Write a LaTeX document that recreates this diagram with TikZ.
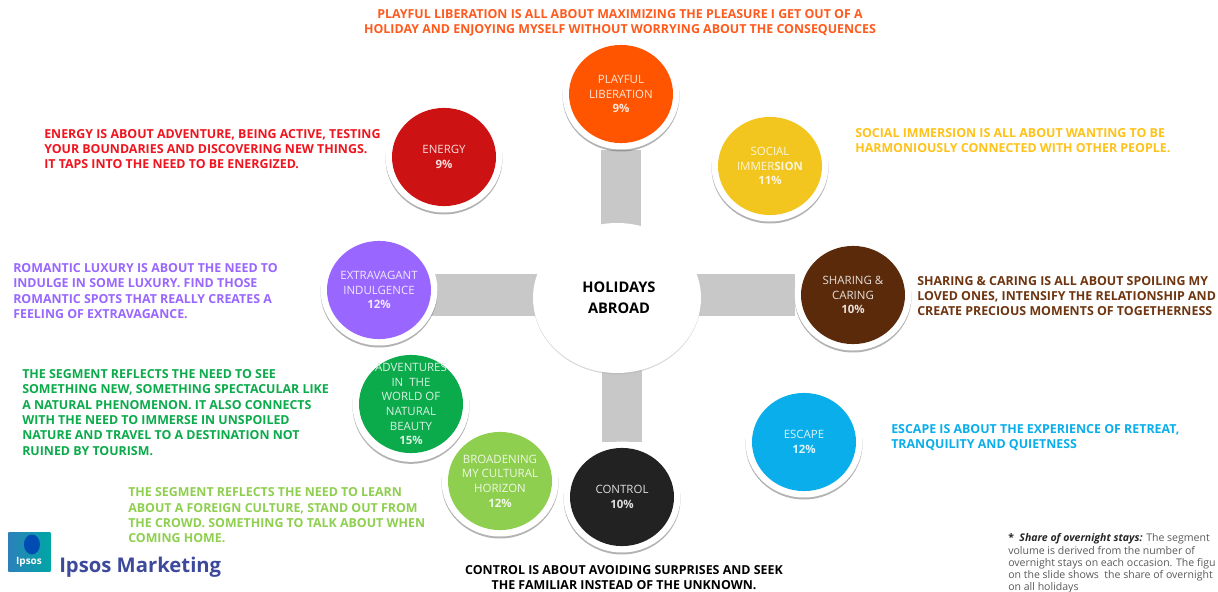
\documentclass[tikz,border=0pt]{standalone}
\usepackage{fontspec}
\setmainfont{Open Sans}
\usetikzlibrary{shapes.geometric,shadows,backgrounds}
\definecolor{EnergyRed}{HTML}{CC1212}
\definecolor{EnergyText}{HTML}{F0141E}
\definecolor{PlayOrange}{HTML}{FF5500}
\definecolor{PlayText}{HTML}{FF5A1E}
\definecolor{SocialYellow}{HTML}{F2C61F}
\definecolor{SocialText}{HTML}{FFC21A}
\definecolor{ShareBrown}{HTML}{5A2A0A}
\definecolor{ShareText}{HTML}{6E3510}
\definecolor{EscapeBlue}{HTML}{0AAEEA}
\definecolor{ExtraPurple}{HTML}{9966FF}
\definecolor{NatureGreen}{HTML}{0BAA4B}
\definecolor{CultureGreen}{HTML}{8FCF4F}
\definecolor{ControlBlack}{HTML}{222222}
\definecolor{BarGrey}{HTML}{C8C8C8}
\definecolor{IpsosBlue}{HTML}{3D4A9C}

\begin{document}
\begin{tikzpicture}[
    declare function={pxunit=0.75;},
    yscale=-1,x=pxunit*1pt,y=pxunit*1pt,
    bubble/.style={ellipse,fill=white,
            minimum width=117*pxunit*1pt,minimum height=111*pxunit*1pt,
            inner sep=0pt,outer sep=0pt,align=center,text=white!85!#1,
            font=\fontsize{8.6}{11}\selectfont,
            path picture={\fill[#1] (path picture bounding box.center)
                ellipse (39pt and 36.8pt);},
            drop shadow={shadow xshift=0pt,shadow yshift=-1.5pt,fill=black!60}},
    blurb/.style={anchor=west,align=left,inner sep=0pt,text=#1,
            font=\fontsize{9.3}{11.5}\selectfont\bfseries},
    blurb mid/.style={blurb=#1,anchor=center,align=center},
    bar/.style={draw=BarGrey,line width=30pt},
    wide bar/.style={draw=BarGrey,line width=32pt}]
    \useasboundingbox (0,0) rectangle (1218,592);
    % hub and segments
    \node[ellipse,fill=white,minimum width=168*pxunit*1pt,minimum height=150*pxunit*1pt,
        inner sep=0pt,align=center,font=\fontsize{11}{15.7}\selectfont\bfseries,
        drop shadow={shadow xshift=0pt,shadow yshift=-1pt,fill=black!30}]
        (hub) at (617,298) {\hspace*{3pt}HOLIDAYS\\\hspace*{3pt}ABROAD};
    \node[bubble=EnergyRed] (energy) at (444,157) {ENERGY\\\textbf{9\%}};
    \node[bubble=PlayOrange] (playful) at (621,94) {PLAYFUL\\LIBERATION\\\textbf{9\%}};
    \node[bubble=SocialYellow] (social) at (770,166) {SOCIAL\\IMMER\textbf{SION}\\\textbf{11\%}};
    \node[bubble=ShareBrown] (sharing) at (853,295) {SHARING \&\\CARING\\\textbf{10\%}};
    \node[bubble=EscapeBlue] (escape) at (804,442) {ESCAPE\\\textbf{12\%}};
    \node[bubble=ExtraPurple] (extra) at (379,290) {EXTRAVAGANT\\INDULGENCE\\\textbf{12\%}};
    \node[bubble=NatureGreen] (nature) at (411,404) {ADVENTURES\\IN\ \ THE\\WORLD OF\\NATURAL\\BEAUTY\\\textbf{15\%}};
    \node[bubble=CultureGreen] (culture) at (500,481) {BROADENING\\MY CULTURAL\\HORIZON\\\textbf{12\%}};
    \node[bubble=ControlBlack] (control) at (622,497) {CONTROL\\\textbf{10\%}};
    % grey bars behind everything
    \begin{scope}[on background layer]
    \draw[bar] (hub.center -| playful) -- (playful);
    \draw[bar] (hub.center -| control) -- (control);
    \draw[wide bar] (hub.center |- sharing) -- (extra |- sharing);
    \draw[wide bar] (hub.center |- sharing) -- (sharing);
    \end{scope}
    % descriptions
    \node[blurb mid=PlayText] (playfulText) at (620,22.5) {PLAYFUL LIBERATION IS ALL ABOUT MAXIMIZING THE PLEASURE I GET OUT OF A\\HOLIDAY AND ENJOYING MYSELF WITHOUT WORRYING ABOUT THE CONSEQUENCES};
    \node[blurb=EnergyText] (energyText) at (44,149) {ENERGY IS ABOUT ADVENTURE, BEING ACTIVE, TESTING\\YOUR BOUNDARIES AND DISCOVERING NEW THINGS.\\IT TAPS INTO THE NEED TO BE ENERGIZED.};
    \node[blurb=SocialText] (socialText) at (855,140.5) {SOCIAL IMMERSION IS ALL ABOUT WANTING TO BE\\HARMONIOUSLY CONNECTED WITH OTHER PEOPLE.};
    \node[blurb=ShareText] (sharingText) at (917,296) {SHARING \& CARING IS ALL ABOUT SPOILING MY\\LOVED ONES, INTENSIFY THE RELATIONSHIP AND\\CREATE PRECIOUS MOMENTS OF TOGETHERNESS};
    \node[blurb=EscapeBlue] (escapeText) at (891,437.5) {ESCAPE IS ABOUT THE EXPERIENCE OF RETREAT,\\TRANQUILITY AND QUIETNESS};
    \node[blurb=ExtraPurple] (extraText) at (13,291) {ROMANTIC LUXURY IS ABOUT THE NEED TO\\INDULGE IN SOME LUXURY. FIND THOSE\\ROMANTIC SPOTS THAT REALLY CREATES A\\FEELING OF EXTRAVAGANCE.};
    \node[blurb=NatureGreen] (natureText) at (22,412.5) {THE SEGMENT REFLECTS THE NEED TO SEE\\SOMETHING NEW, SOMETHING SPECTACULAR LIKE\\A NATURAL PHENOMENON. IT ALSO CONNECTS\\WITH THE NEED TO IMMERSE IN UNSPOILED\\NATURE AND TRAVEL TO A DESTINATION NOT\\RUINED BY TOURISM.};
    \node[blurb=CultureGreen] (cultureText) at (128,515.5) {THE SEGMENT REFLECTS THE NEED TO LEARN\\ABOUT A FOREIGN CULTURE, STAND OUT FROM\\THE CROWD. SOMETHING TO TALK ABOUT WHEN\\COMING HOME.};
    \node[blurb mid=black] (controlText) at (624,577.5) {CONTROL IS ABOUT AVOIDING SURPRISES AND SEEK\\THE FAMILIAR INSTEAD OF THE UNKNOWN.};
    % logo
    \node[minimum width=42*pxunit*1pt,minimum height=39*pxunit*1pt,inner sep=0pt,
        anchor=north west,left color=IpsosBlue!70!cyan,right color=teal!70!cyan,
        path picture={\fill[blue!40!teal] ([xshift=2pt,yshift=5.5pt]path picture bounding box.center)
            ellipse (6pt and 7.5pt);}]
        (logoBox) at (8,532) {};
    \node[text=white,inner sep=0pt,font=\fontsize{7.5}{8}\selectfont\bfseries]
        (logoWord) at (29,562) {Ipsos};
    \node[anchor=base west,inner sep=0pt,text=IpsosBlue,font=\fontsize{15.2}{18}\selectfont\bfseries]
        (logoText) at (59,572) {Ipsos Marketing};
    % footnote
    \node[anchor=north west,align=left,inner sep=0pt,text=black!65,
        font=\fontsize{7.9}{9.2}\selectfont] (shareNote) at (1008,533.5)
        {\textcolor{black!85}{\textbf{*\ \ \textit{Share of overnight stays:}}} The segment\\
        volume is derived from the number of\\
        overnight stays on each occasion. The figu\\
        on the slide shows\ \ the share of overnight\\
        on all holidays};
\end{tikzpicture}
\end{document}
